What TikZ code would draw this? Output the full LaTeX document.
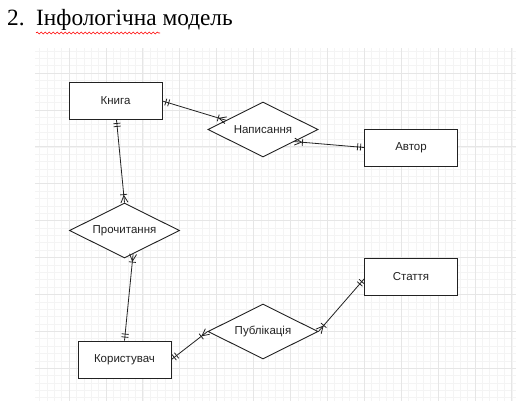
\documentclass[tikz,border=0pt]{standalone}
\usepackage{fontspec}
\setmainfont{Liberation Sans}
\newfontfamily\headingfont{Liberation Serif}
\usetikzlibrary{shapes.geometric,decorations.markings,decorations.pathmorphing}

\definecolor{gridminor}{HTML}{F4F4F4}
\definecolor{gridmajor}{HTML}{E6E6E6}
\definecolor{ink}{HTML}{222222}

\tikzset{
  entity/.style={draw=ink, line width=0.9pt, fill=white, rectangle,
    minimum width=93pt, minimum height=37pt, inner sep=0pt,
    font=\fontsize{11.5}{13}\selectfont, text=ink},
  relation/.style={draw=ink, line width=0.9pt, fill=white, diamond,
    shape aspect=2, minimum width=110pt, minimum height=55pt, inner sep=0pt,
    font=\fontsize{11.5}{13}\selectfont, text=ink},
  tickmark/.style={draw=ink, line width=0.8pt},
  % mandatory "one" bars at the entity end, crow's foot with bar at the relation end
  rel/.style={draw=ink, line width=0.8pt,
    postaction={decorate, decoration={markings,
      mark=at position 3.5pt with {\draw[tickmark] (0,-3.5pt) -- (0,3.5pt);},
      mark=at position 6.5pt with {\draw[tickmark] (0,-3.5pt) -- (0,3.5pt);},
      mark=at position -7pt with {\draw[tickmark] (0,0) -- (7pt,3.5pt) (0,0) -- (7pt,-3.5pt);
                                  \draw[tickmark] (-1pt,-3.5pt) -- (-1pt,3.5pt);}}}},
  gridline/.style={draw=gridminor, line width=0.5pt},
  gridbold/.style={draw=gridmajor, line width=0.8pt},
}

\begin{document}
\begin{tikzpicture}[x=1pt,y=-1pt]
  \useasboundingbox[fill=white] (0,0) rectangle (519,413);

  % heading
  \node[anchor=base west, inner sep=0pt, font=\headingfont\fontsize{23.3}{28}\selectfont] (num) at (7,25) {2.};
  \node[anchor=base west, inner sep=0pt, font=\headingfont\fontsize{23.3}{28}\selectfont] (heading) at (36,25) {Інфологічна модель};
  \draw[red, line width=0.6pt, decorate, decoration={snake, amplitude=1pt, segment length=4pt}]
    (36,33) -- (160,33);

  % background grid
  \begin{scope}
    \clip (35,48) rectangle (516,401);
    \foreach \i in {-4,...,60} \draw[gridline] ({69+7.38*\i},48) -- ({69+7.38*\i},401);
    \foreach \j in {-3,...,44} \draw[gridline] (35,{73+7.38*\j}) -- (516,{73+7.38*\j});
    \foreach \i in {0,5,...,60} \draw[gridbold] ({69+7.38*\i},48) -- ({69+7.38*\i},401);
    \foreach \j in {0,5,...,40} \draw[gridbold] (35,{73+7.38*\j}) -- (516,{73+7.38*\j});
  \end{scope}

  % entities
  \node[entity] (kniga)   at (115.5,101)   {Книга};
  \node[entity] (avtor)   at (411,147.5)   {Автор};
  \node[entity] (stattia) at (411,276.5)   {Стаття};
  \node[entity] (korist)  at (124.5,359.5) {Користувач};

  % relationships
  \node[relation] (napys)   at (263,129.5)   {Написання};
  \node[relation] (prochyt) at (124.5,230.5) {Прочитання};
  \node[relation] (publik)  at (263,331.5)   {Публікація};

  % links
  \draw[rel] (kniga.east) -- (napys.166);
  \draw[rel] (avtor.west) -- (napys.-21);
  \draw[rel] ([xshift=1pt]kniga.south) -- (prochyt.north);
  \draw[rel] (korist.north) -- (prochyt.-70);
  \draw[rel] (korist.east) -- (publik.west);
  \draw[rel] ([yshift=-2.5pt]stattia.west) -- (publik.east);
\end{tikzpicture}
\end{document}
